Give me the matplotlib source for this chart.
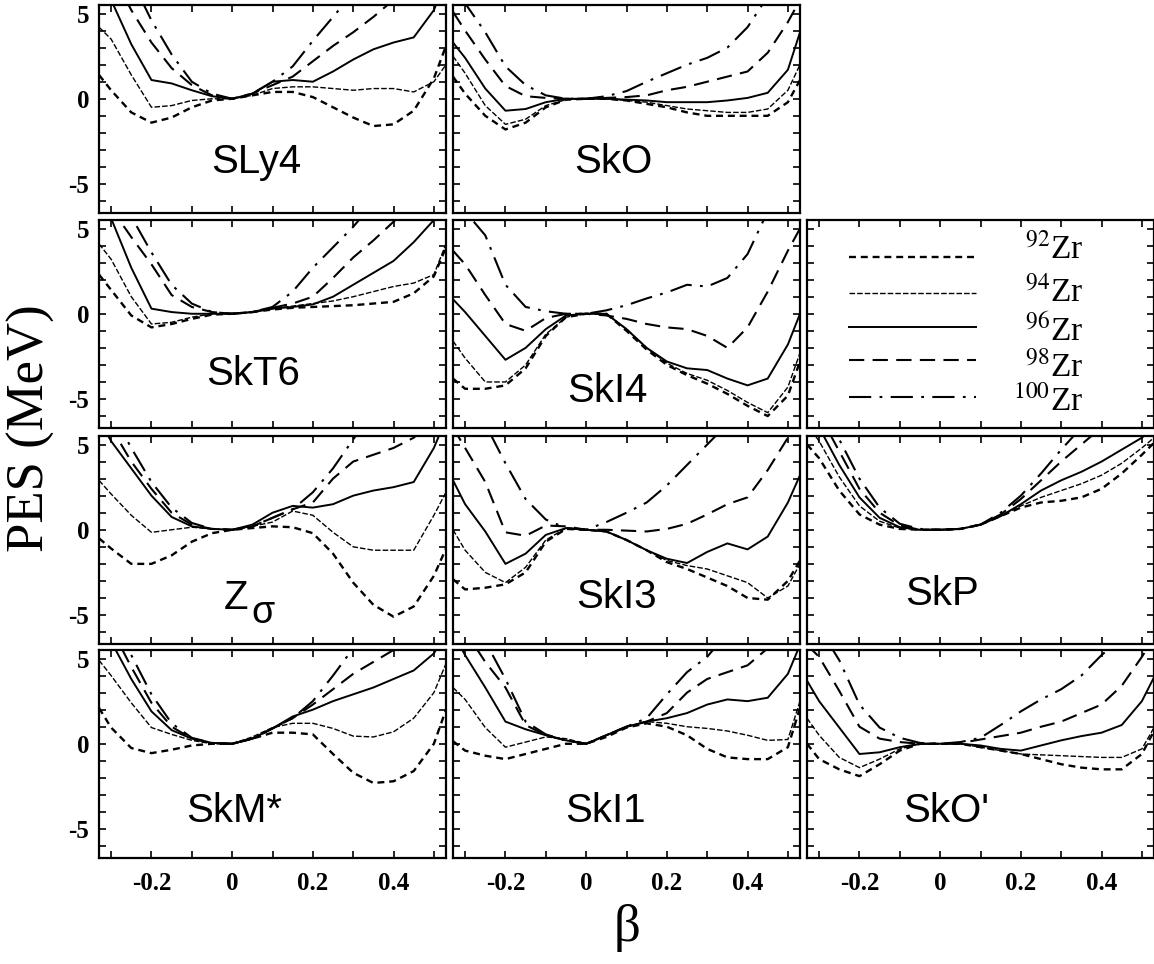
import numpy as np
import matplotlib.pyplot as plt

plt.rcParams['mathtext.fontset'] = 'stix'
plt.rcParams['lines.scale_dashes'] = False

beta = [-0.33, -0.3, -0.25, -0.2, -0.15, -0.1, -0.05, 0, 0.05, 0.1, 0.15,
        0.2, 0.25, 0.3, 0.35, 0.4, 0.45, 0.5, 0.53]
isotopes = [92, 94, 96, 98, 100]

# PES (MeV) per force, rows = 92Zr, 94Zr, 96Zr, 98Zr, 100Zr
sly4 = [[1.4, 0.5, -0.8, -1.4, -1.1, -0.5, -0.1, 0, 0.2, 0.4, 0.4, 0.1, -0.5, -1.1, -1.6, -1.5, -0.7, 1.2, 3.1],
        [4.2, 3.5, 1.4, -0.5, -0.4, -0.1, 0, 0, 0.2, 0.6, 0.7, 0.7, 0.6, 0.5, 0.6, 0.6, 0.4, 1.0, 2.0],
        [7.0, 5.8, 3.2, 1.1, 0.9, 0.5, 0.15, 0, 0.3, 1.0, 1.1, 1.0, 1.6, 2.3, 2.9, 3.3, 3.6, 5.2, 7.0],
        [9.0, 7.5, 5.2, 3.3, 1.8, 0.8, 0.2, 0, 0.3, 0.8, 1.3, 2.2, 3.1, 3.9, 4.8, 5.8, 7.0, 8.0, 9.0],
        [12, 10, 7.0, 4.6, 2.6, 1.0, 0.3, 0, 0.3, 1.0, 1.9, 3.4, 4.8, 6.2, 7.5, 9, 10, 11, 12]]
sko = [[1.3, 0.3, -1.0, -1.8, -1.4, -0.5, -0.05, 0, 0, -0.1, -0.3, -0.5, -0.8, -1.0, -1.0, -1.0, -1.0, -0.2, 1.1],
       [2.5, 1.5, -0.4, -1.5, -1.2, -0.4, -0.05, 0, 0, -0.1, -0.2, -0.4, -0.6, -0.7, -0.8, -0.8, -0.6, 0.5, 2.0],
       [3.3, 2.4, 0.6, -0.7, -0.6, -0.2, 0, 0, 0, -0.05, -0.1, -0.2, -0.2, -0.2, -0.1, 0.05, 0.35, 1.7, 3.9],
       [5.1, 4.0, 2.3, 0.75, 0.15, 0.05, 0, 0, 0.05, 0.1, 0.2, 0.5, 0.7, 1.0, 1.3, 1.6, 2.7, 4.5, 5.8],
       [6.5, 5.6, 3.9, 1.9, 0.8, 0.2, 0, 0, 0.15, 0.45, 1.0, 1.5, 2.0, 2.4, 3.0, 4.2, 6.0, 7.5, 8.5]]
skt6 = [[2.3, 1.4, -0.1, -0.8, -0.6, -0.3, -0.05, 0, 0.1, 0.25, 0.35, 0.4, 0.45, 0.5, 0.6, 0.7, 1.2, 2.2, 3.9],
        [4.1, 3.2, 1.0, -0.6, -0.5, -0.2, 0, 0, 0.1, 0.3, 0.45, 0.6, 0.75, 1.0, 1.3, 1.6, 1.8, 2.3, 4.1],
        [6.5, 5.6, 2.7, 0.3, 0.1, 0.0, 0, 0, 0.1, 0.3, 0.4, 0.55, 1.0, 1.7, 2.4, 3.1, 4.2, 5.5, 6.5],
        [7.5, 6.2, 4.5, 2.9, 1.1, 0.4, 0.1, 0, 0.1, 0.35, 0.6, 1.0, 2.1, 3.3, 4.3, 5.4, 6.5, 7.5, 8.5],
        [9.5, 8.0, 5.7, 3.6, 1.7, 0.6, 0.1, 0, 0.1, 0.4, 1.3, 2.7, 3.9, 5.1, 6.5, 8, 9, 10, 11]]
ski4 = [[-3.8, -4.4, -4.4, -4.2, -3.2, -1.3, -0.2, 0, 0, -1.0, -2.1, -3.0, -3.6, -4.1, -4.7, -5.4, -6.0, -4.8, -2.8],
        [-1.6, -2.6, -4.0, -4.0, -3.0, -1.2, -0.2, 0, 0, -0.9, -2.0, -2.9, -3.5, -3.9, -4.5, -5.2, -5.8, -4.3, -2.3],
        [0.85, 0.1, -1.3, -2.7, -2.0, -0.9, -0.1, 0, 0, -0.9, -2.0, -2.8, -3.2, -3.3, -3.8, -4.2, -3.8, -1.8, 0.0],
        [3.7, 2.9, 1.1, -0.6, -1.0, -0.25, 0, 0, -0.1, -0.3, -0.6, -0.8, -0.9, -1.3, -2.0, -0.8, 1.3, 3.7, 5.0],
        [7.5, 6.0, 4.6, 1.7, 0.4, 0.15, 0, 0, 0.2, 0.5, 0.9, 1.25, 1.7, 1.6, 2.1, 3.5, 6.0, 8, 9]]
zsig = [[-0.5, -1.1, -2.0, -2.0, -1.5, -0.7, -0.2, 0, 0.1, 0.2, 0.15, -0.2, -1.4, -3.1, -4.4, -5.1, -4.5, -2.7, -1.1],
        [2.9, 2.1, 0.85, -0.15, 0, 0.15, 0.05, 0, 0.2, 0.45, 1.1, 0.85, -0.15, -1.0, -1.2, -1.2, -1.2, 0.85, 2.2],
        [6.5, 5.2, 3.6, 2.0, 0.75, 0.2, 0.05, 0, 0.3, 1.0, 1.4, 1.3, 1.5, 2.0, 2.3, 2.5, 2.8, 4.8, 6.5],
        [7.5, 6.0, 4.0, 2.4, 1.0, 0.3, 0.05, 0, 0.2, 0.7, 1.2, 1.6, 3.0, 4.0, 4.4, 4.8, 5.4, 6.5, 7.5],
        [9, 7.0, 4.8, 2.8, 1.3, 0.4, 0.05, 0, 0.2, 0.7, 1.2, 2.2, 3.6, 5.3, 7, 8.5, 10, 11, 12]]
ski3 = [[-2.9, -3.5, -3.4, -3.2, -2.5, -0.7, 0.05, 0, -0.1, -0.6, -1.2, -1.9, -2.3, -2.8, -3.3, -4.0, -4.1, -3.0, -1.8],
        [0, -1.2, -2.5, -3.1, -2.2, -0.6, 0.1, 0, -0.1, -0.6, -1.2, -1.8, -2.1, -2.3, -2.7, -3.1, -4.0, -3.3, -2.0],
        [2.9, 1.5, -0.1, -2.0, -1.4, -0.3, 0.1, 0, -0.1, -0.6, -1.2, -1.7, -1.95, -1.3, -0.8, -1.15, -0.4, 1.6, 3.2],
        [6, 4.8, 2.8, -0.15, -0.35, 0.25, 0.2, 0, 0, -0.05, -0.1, 0.05, 0.35, 0.9, 1.5, 1.9, 3.5, 5.4, 6.5],
        [10, 8.5, 6.2, 3.9, 1.8, 0.6, 0.1, 0, 0.45, 1.0, 1.6, 2.6, 3.8, 5.0, 6.2, 7.5, 9, 10, 11]]
skp = [[5.0, 4.2, 2.3, 0.9, 0.3, 0.05, 0, 0, 0.05, 0.3, 0.8, 1.3, 1.6, 1.7, 1.9, 2.4, 3.3, 4.4, 5.1],
       [6.2, 5.2, 3.1, 1.4, 0.5, 0.1, 0, 0, 0.05, 0.3, 0.8, 1.4, 1.9, 2.3, 2.7, 3.2, 3.9, 4.8, 5.4],
       [7.0, 6.0, 3.8, 1.9, 0.7, 0.15, 0, 0, 0.05, 0.3, 0.8, 1.5, 2.3, 2.9, 3.4, 4.0, 4.7, 5.4, 6.0],
       [8.0, 6.8, 4.6, 2.4, 1.0, 0.25, 0, 0, 0.05, 0.3, 0.9, 1.8, 2.9, 4.0, 5.0, 6.0, 7.0, 8.0, 8.5],
       [9.0, 7.6, 5.3, 3.0, 1.3, 0.35, 0.05, 0, 0.05, 0.3, 1.0, 2.0, 3.3, 4.7, 6.0, 7.2, 8.5, 9.5, 10]]
skms = [[2.1, 0.95, -0.25, -0.55, -0.35, -0.1, 0, 0, 0.3, 0.65, 0.65, 0.55, -0.6, -1.7, -2.3, -2.2, -1.6, 0, 2.0],
        [4.9, 4.0, 2.4, 0.95, 0.55, 0.2, 0, 0, 0.4, 0.95, 1.2, 1.2, 0.9, 0.45, 0.4, 0.7, 1.5, 3.0, 4.7],
        [7, 6.0, 3.8, 1.9, 0.8, 0.3, 0.05, 0, 0.3, 0.9, 1.6, 2.0, 2.5, 2.9, 3.3, 3.8, 4.3, 5.3, 6.5],
        [8, 6.8, 4.5, 2.4, 1.0, 0.3, 0.05, 0, 0.3, 0.9, 1.5, 2.3, 3.2, 4.1, 4.8, 5.5, 6.2, 7, 8],
        [9, 7.5, 5.2, 2.9, 1.2, 0.35, 0.05, 0, 0.3, 0.9, 1.5, 2.5, 4.0, 5.6, 7, 8.5, 10, 11, 12]]
ski1 = [[0.15, -0.4, -0.7, -0.9, -0.6, -0.3, 0, 0, 0.4, 0.95, 1.2, 1.0, 0.5, -0.3, -0.8, -0.9, -0.9, -0.2, 2.1],
        [3.3, 2.6, 0.95, -0.2, 0.1, 0.4, 0.3, 0, 0.5, 1.0, 1.3, 1.2, 1.0, 0.9, 0.75, 0.5, 0.2, 0.25, 2.5],
        [6.5, 5.2, 3.3, 1.3, 0.85, 0.5, 0.2, 0, 0.5, 1.0, 1.3, 1.5, 1.8, 2.3, 2.6, 2.5, 2.7, 4.1, 5.8],
        [8, 6.6, 4.8, 3.3, 1.1, 0.5, 0.2, 0, 0.5, 1.0, 1.3, 1.8, 3.0, 3.8, 4.2, 4.6, 5.6, 6.5, 7.5],
        [9.5, 8.0, 6.0, 3.8, 1.3, 0.55, 0.2, 0, 0.5, 1.0, 1.5, 2.9, 4.2, 5.1, 6.5, 8, 9, 10, 11]]
skop = [[0, -0.9, -1.5, -1.9, -1.2, -0.4, 0, 0, 0, -0.2, -0.4, -0.6, -0.9, -1.2, -1.4, -1.5, -1.5, -0.6, 0.75],
        [1.5, 0.5, -0.8, -1.4, -0.9, -0.3, 0, 0, 0, -0.2, -0.4, -0.6, -0.65, -0.7, -0.75, -0.8, -0.8, -0.3, 0.95],
        [3.7, 2.5, 0.95, -0.6, -0.5, -0.2, 0, 0, 0, -0.1, -0.3, -0.4, -0.1, 0.2, 0.45, 0.65, 1.1, 2.5, 3.9],
        [5.8, 5.1, 3.1, 1.0, 0.3, 0.1, 0, 0, 0.05, 0.25, 0.45, 0.65, 1.0, 1.3, 1.8, 2.3, 3.4, 5.1, 6.2],
        [8, 6.8, 4.9, 2.3, 0.95, 0.35, 0.05, 0, 0.1, 0.35, 1.1, 1.9, 2.6, 3.2, 4.0, 5.2, 6.2, 7.5, 8.5]]

# (name, data, row, col, label x, label y) -- label pos in axes fraction
panels = [('SLy4', sly4, 0, 0, 0.454, 0.245), ('SkO', sko, 0, 1, 0.463, 0.245),
          ('SkT6', skt6, 1, 0, 0.443, 0.26), ('SkI4', ski4, 1, 1, 0.445, 0.18),
          ('Z', zsig, 2, 0, 0.394, 0.22), ('SkI3', ski3, 2, 1, 0.47, 0.226),
          ('SkP', skp, 2, 2, 0.39, 0.24), ('SkM*', skms, 3, 0, 0.39, 0.226),
          ('SkI1', ski1, 3, 1, 0.44, 0.226), ("SkO'", skop, 3, 2, 0.40, 0.226)]

styles = [dict(ls=(0, (5, 3.5)), lw=1.7),
          dict(ls=(0, (4, 1.5)), lw=1.0),
          dict(ls='-', lw=1.4),
          dict(ls=(0, (11, 6)), lw=1.5),
          dict(ls=(0, (16, 6, 2, 6)), lw=1.5)]

W, H = 1154, 964
lefts = [99, 453, 807]
tops = [5, 220, 436, 650]
pw, ph = 347, 208

fig = plt.figure(figsize=(W / 100, H / 100), dpi=100)
tickfont = dict(family='Liberation Serif', weight='bold', size=18)


def make_axes(r, c):
    ax = fig.add_axes([lefts[c] / W, 1 - (tops[r] + ph) / H, pw / W, ph / H])
    ax.set_xlim(-0.33, 0.53)
    ax.set_ylim(-6.7, 5.5)
    ax.set_xticks([-0.2, 0, 0.2, 0.4])
    ax.set_xticks([-0.3, -0.1, 0.1, 0.3, 0.5], minor=True)
    ax.set_yticks([-5, 0, 5])
    ax.set_yticks(np.arange(-6, 6, 1), minor=True)
    ax.tick_params(which='both', direction='in', top=True, right=True,
                   length=5, width=1.2, labelbottom=(r == 3), labelleft=(c == 0))
    for s in ax.spines.values():
        s.set_linewidth(1.6)
    ax.set_xticklabels(['-0.2', '0', '0.2', '0.4'], fontdict=tickfont)
    ax.set_yticklabels(['-5', '0', '5'], fontdict=tickfont)
    ax.tick_params(axis='x', pad=10)
    ax.tick_params(axis='y', pad=7)
    return ax


for name, data, r, c, lx, ly in panels:
    ax = make_axes(r, c)
    for vals, st in zip(data, styles):
        ax.plot(beta, vals, color='black', dash_capstyle='butt', **st)
    ax.text(lx, ly, name, transform=ax.transAxes, ha='center', va='center',
            family='Liberation Sans', fontsize=29)
    if name == 'Z':
        ax.text(0.474, 0.15, 'σ', transform=ax.transAxes, ha='center',
                va='center', family='Liberation Sans', fontsize=27)

# legend panel
ax = make_axes(1, 2)
leg_y = [3.35, 1.2, -0.8, -2.7, -4.9]
lab_y = [3.8, 1.3, -1.0, -3.1, -5.2]
for iso, st, y0, y1 in zip(isotopes, styles, leg_y, lab_y):
    ax.plot([-0.225, 0.09], [y0, y0], color='black', dash_capstyle='butt', **st)
    ax.text(0.355, y1, r'$^{%d}$Zr' % iso, ha='right', va='center',
            family='Liberation Serif', fontsize=24)

fig.text(31 / W, 1 - 428 / H, 'PES (MeV)', rotation=90, ha='center', va='center',
         family='Liberation Serif', fontsize=38)
fig.text(627 / W, 1 - 928 / H, 'β', ha='center', va='center',
         family='Liberation Serif', fontsize=38)

fig.savefig('out.png', dpi=100)
